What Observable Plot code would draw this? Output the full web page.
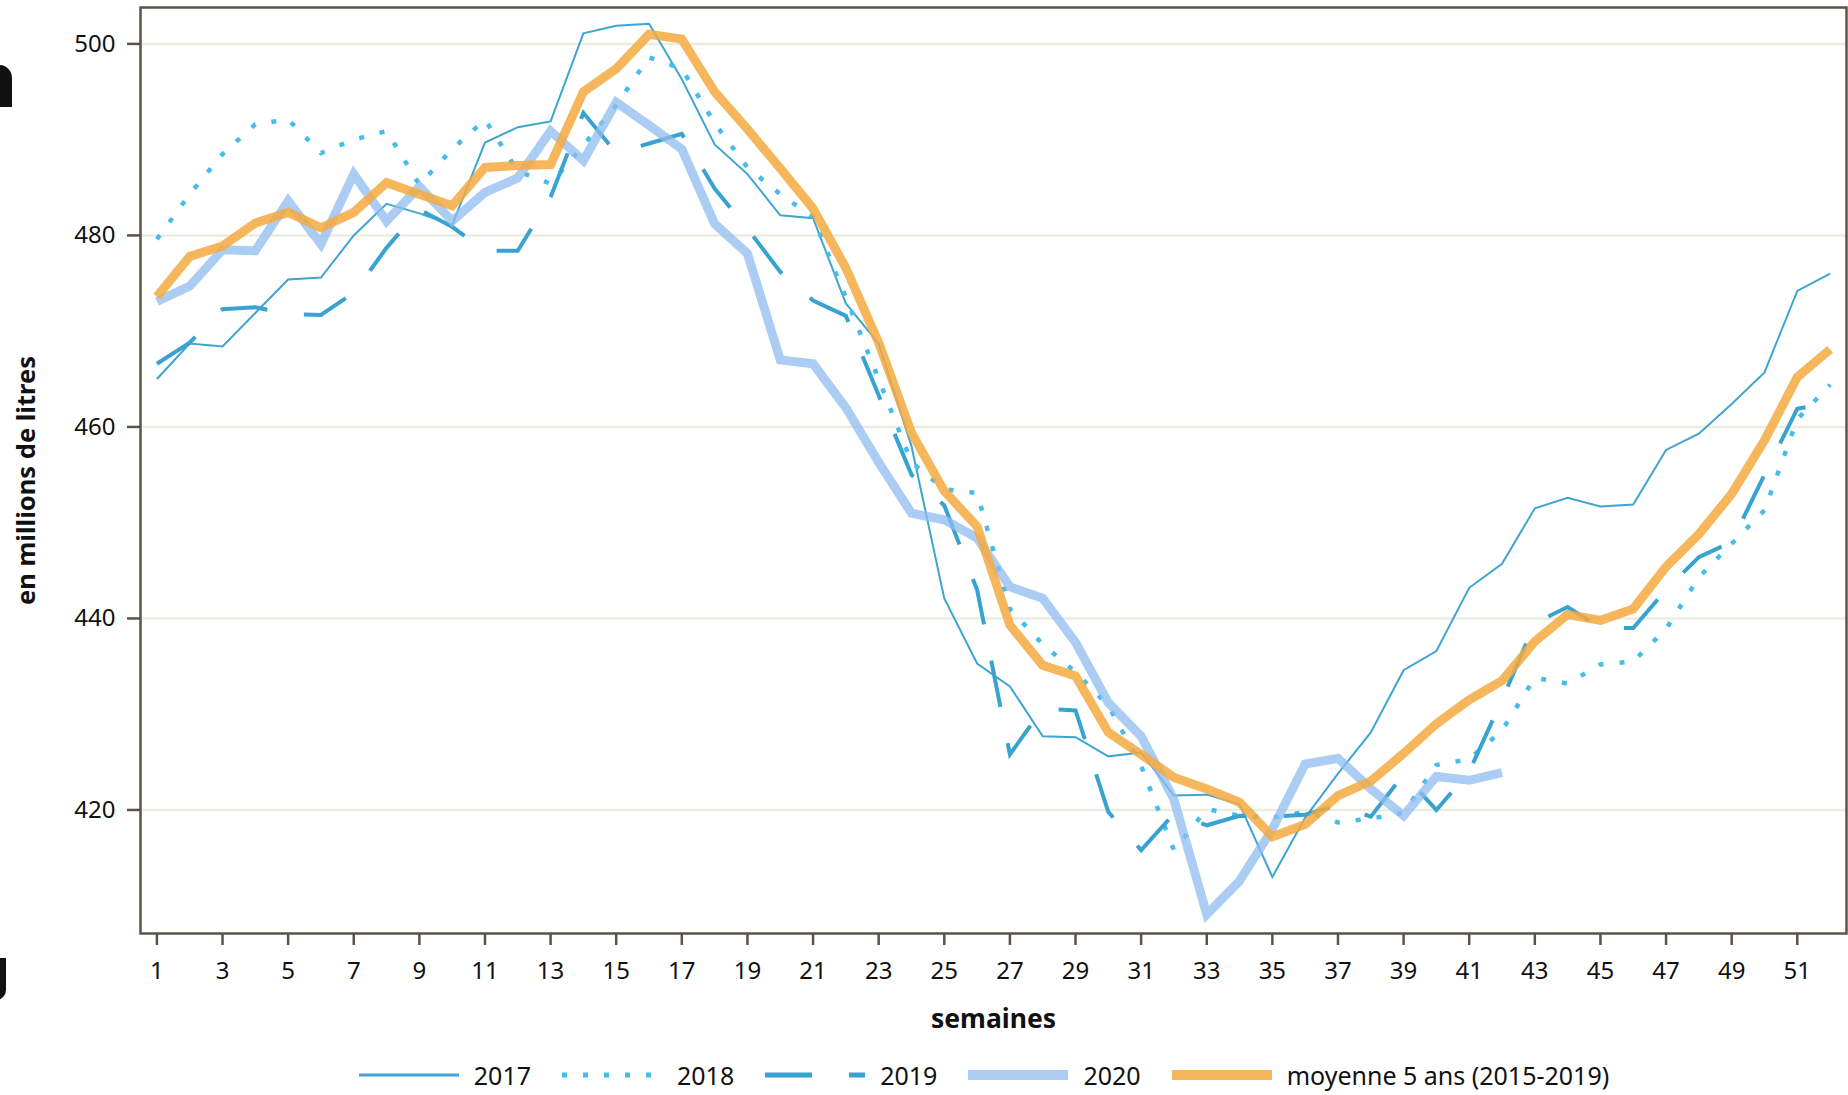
<!DOCTYPE html>
<html>
<head>
<meta charset="utf-8">
<script src="https://cdn.jsdelivr.net/npm/d3@7"></script>
<script src="https://cdn.jsdelivr.net/npm/@observablehq/plot@0.6"></script>
<style>
  html, body { margin: 0; padding: 0; background: #ffffff; }
  body { width: 1848px; height: 1095px; overflow: hidden; font-family: "Noto Sans", sans-serif; position: relative; }
  #chart svg { display: block; }
  #legend { display: flex; justify-content: center; align-items: center; height: 50px; padding-left: 120px; box-sizing: border-box; width: 1848px; font-size: 25px; color: #111; }
  #legend .item { display: flex; align-items: center; }
  #legend svg { display: block; }
  .edge { position: absolute; background: #111; }
</style>
</head>
<body>
<div id="chart"></div>
<div id="legend"></div>
<div class="edge" style="left:-14px; top:65px; width:26px; height:42px; border-radius:13px 13px 0 0;"></div>
<div class="edge" style="left:-14px; top:958px; width:20px; height:42px; border-radius:0 0 10px 10px;"></div>
<script>
// ---- data ----
const weeks = [1,2,3,4,5,6,7,8,9,10,11,12,13,14,15,16,17,18,19,20,21,22,23,24,25,26,27,28,29,30,31,32,33,34,35,36,37,38,39,40,41,42,43,44,45,46,47,48,49,50,51,52];

const v2017 = [465.0,468.7,468.4,471.9,475.4,475.6,480.0,483.3,482.3,481.1,489.7,491.3,491.9,501.1,501.9,502.1,496.3,489.5,486.4,482.1,481.8,472.9,468.7,458.0,442.1,435.3,432.9,427.7,427.6,425.6,426.0,421.5,421.6,420.6,413.0,419.2,423.8,428.1,434.6,436.6,443.2,445.7,451.5,452.6,451.7,451.9,457.6,459.3,462.4,465.7,474.2,476.0];

const v2018 = [479.6,484.3,488.5,491.6,492.1,488.6,490.0,490.9,485.3,489.0,492.1,486.7,485.4,489.4,493.6,498.6,497.4,491.7,487.1,484.3,481.9,473.5,465.0,456.3,453.5,453.1,441.0,437.3,434.4,430.9,424.6,415.8,420.1,419.4,419.2,419.8,418.7,419.1,419.7,424.7,425.3,428.3,433.8,433.2,435.2,435.5,438.9,444.3,447.8,451.3,460.8,464.4];

const v2019 = [466.6,468.8,472.3,472.5,471.8,471.7,474.0,478.7,482.7,480.9,478.4,478.4,484.0,492.8,488.6,489.6,490.6,484.9,480.7,476.2,473.2,471.6,463.3,455.0,451.8,443.0,425.8,430.6,430.4,419.8,415.8,419.6,418.4,419.4,419.3,419.5,420.5,419.3,423.7,420.0,424.0,431.5,439.5,441.2,439.0,439.0,443.0,446.4,448.0,455.0,461.9,462.5];

const v2020 = [473.1,474.7,478.5,478.4,483.6,479.1,486.4,481.5,485.1,481.5,484.5,486.0,490.9,487.8,493.9,491.5,489.0,481.2,478.1,467.0,466.6,462.0,456.3,451.0,450.3,448.4,443.3,442.1,437.5,431.2,427.7,421.1,409.1,412.6,418.0,424.8,425.4,422.2,419.4,423.5,423.1,423.9];

const vMoyenne = [473.6,477.8,478.9,481.3,482.4,480.8,482.4,485.5,484.3,483.1,487.1,487.3,487.4,495.0,497.4,501.0,500.5,495.0,491.1,487.0,482.8,476.6,468.8,459.4,453.3,449.6,439.3,435.1,434.0,428.1,425.8,423.4,422.2,420.8,417.2,418.5,421.5,423.0,425.9,429.0,431.5,433.5,437.6,440.4,439.8,441.0,445.4,448.8,453.0,458.6,465.2,468.1];

const seriesNames = ["2017", "2018", "2019", "2020", "moyenne 5 ans (2015-2019)"];
const xTicks = [1,3,5,7,9,11,13,15,17,19,21,23,25,27,29,31,33,35,37,39,41,43,45,47,49,51];
const yTicks = [420, 440, 460, 480, 500];
const xLabel = "semaines";
const yLabel = "en millions de litres";

// ---- styles ----
const styles = [
  {stroke: "#3ea5d2", strokeWidth: 2, dash: null, opacity: 1, legendWidth: 3},
  {stroke: "#44bdea", strokeWidth: 4.5, dash: "5,16", opacity: 1, legendWidth: 5},
  {stroke: "#38a3d0", strokeWidth: 4, dash: "47,37", opacity: 1, legendWidth: 5},
  {stroke: "#8fbcf0", strokeWidth: 9, dash: null, opacity: 0.75, legendWidth: 10},
  {stroke: "#f5a93f", strokeWidth: 9, dash: null, opacity: 0.85, legendWidth: 10}
];
const allValues = [v2017, v2018, v2019, v2020, vMoyenne];

const rows = (vals) => vals.map((v, i) => ({week: weeks[i], value: v}));

const axisColor = "#5b5346";

const lineMarks = allValues.map((vals, i) => Plot.line(rows(vals), {
  x: "week", y: "value",
  stroke: styles[i].stroke,
  strokeWidth: styles[i].strokeWidth,
  strokeOpacity: styles[i].opacity,
  strokeDasharray: styles[i].dash,
  strokeLinecap: "butt",
  strokeLinejoin: "miter",
  strokeMiterlimit: 4
}));

const chart = Plot.plot({
  width: 1848,
  height: 1050,
  marginLeft: 140,
  marginRight: 2,
  marginTop: 7,
  marginBottom: 117,
  style: {fontFamily: "'Noto Sans', sans-serif", fontSize: "24px", color: "#111", background: "#ffffff"},
  x: {domain: [0.5, 52.5]},
  y: {domain: [407.1, 503.8]},
  marks: [
    Plot.gridY(yTicks, {stroke: "#eeecdf", strokeOpacity: 1, strokeWidth: 2.5}),
    ...lineMarks,
    Plot.axisX(xTicks, {tickSize: 12, tickPadding: 16, stroke: axisColor, strokeWidth: 2.5, fill: "#111", fontSize: 24, label: null}),
    Plot.axisY(yTicks, {tickSize: 13, tickPadding: 12, stroke: axisColor, strokeWidth: 2.5, fill: "#111", fontSize: 24, label: null}),
    Plot.frame({stroke: axisColor, strokeWidth: 2.5}),
    Plot.text([xLabel], {frameAnchor: "bottom", dy: 86, textAnchor: "middle", lineAnchor: "middle", fontWeight: "bold", fontSize: 26.5, fill: "#111"}),
    Plot.text([yLabel], {frameAnchor: "left", dx: -114, dy: 10, rotate: -90, textAnchor: "middle", lineAnchor: "middle", fontWeight: "bold", fontSize: 25.5, fill: "#111"})
  ]
});
document.getElementById("chart").appendChild(chart);

// ---- legend (below the svg) ----
const legend = document.getElementById("legend");
seriesNames.forEach((name, i) => {
  const s = styles[i];
  const item = document.createElement("div");
  item.className = "item";
  if (i < seriesNames.length - 1) item.style.marginRight = "31px";
  const ns = "http://www.w3.org/2000/svg";
  const sw = document.createElementNS(ns, "svg");
  sw.setAttribute("width", 100);
  sw.setAttribute("height", 14);
  const ln = document.createElementNS(ns, "line");
  ln.setAttribute("x1", 0); ln.setAttribute("x2", 100);
  ln.setAttribute("y1", 7); ln.setAttribute("y2", 7);
  ln.setAttribute("stroke", s.stroke);
  ln.setAttribute("stroke-opacity", s.opacity);
  ln.setAttribute("stroke-width", s.legendWidth);
  if (s.dash) ln.setAttribute("stroke-dasharray", s.dash);
  sw.appendChild(ln);
  const label = document.createElement("span");
  label.textContent = name;
  label.style.marginLeft = "15px";
  item.appendChild(sw);
  item.appendChild(label);
  legend.appendChild(item);
});
</script>
</body>
</html>
